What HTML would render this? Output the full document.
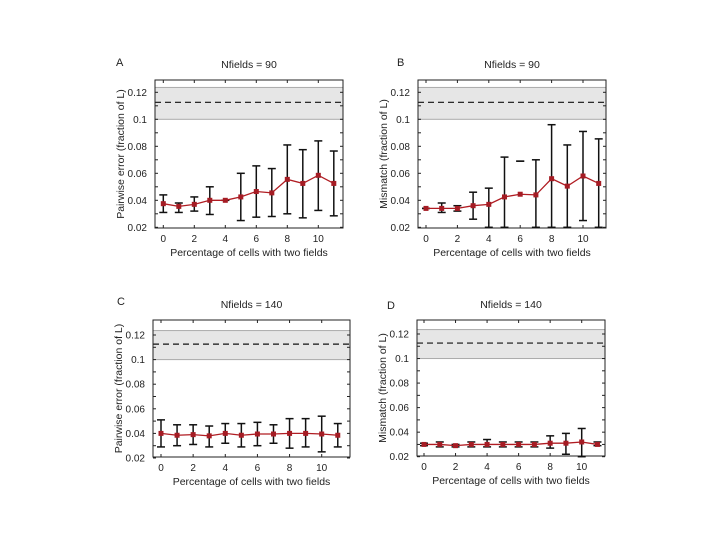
<!DOCTYPE html>
<html><head><meta charset="utf-8"><style>
body{margin:0;background:#fff;width:720px;height:540px;overflow:hidden}
svg{display:block;font-family:"Liberation Sans",sans-serif}
</style></head><body>
<svg id="fig" width="720" height="540"></svg>
<script>
const xCats=[0,1,2,3,4,5,6,7,8,9,10,11];
const xTicks=[0,2,4,6,8,10];
const yTicks=[0.02,0.04,0.06,0.08,0.1,0.12];
const yTickLabels=["0.02","0.04","0.06","0.08","0.1","0.12"];
const meanA=[0.0375,0.0355,0.037,0.040,0.040,0.0425,0.0465,0.0455,0.0555,0.0525,0.0585,0.0525];
const loA=[0.031,0.031,0.032,0.0295,0.040,0.025,0.0275,0.028,0.030,0.027,0.0325,0.0285];
const hiA=[0.044,0.038,0.0425,0.050,0.040,0.060,0.0655,0.0635,0.081,0.0775,0.084,0.0765];
const meanB=[0.034,0.034,0.034,0.036,0.037,0.0425,0.0445,0.044,0.056,0.0505,0.058,0.0525];
const loB=[0.034,0.031,0.032,0.026,0.020,0.020,0.069,0.020,0.020,0.020,0.025,0.020];
const hiB=[0.034,0.038,0.036,0.046,0.049,0.072,0.069,0.070,0.096,0.081,0.091,0.0855];
const meanC=[0.040,0.0385,0.039,0.038,0.040,0.0385,0.0395,0.0395,0.040,0.040,0.0395,0.0385];
const loC=[0.029,0.030,0.031,0.029,0.032,0.029,0.030,0.032,0.028,0.029,0.025,0.029];
const hiC=[0.051,0.047,0.047,0.046,0.048,0.048,0.049,0.047,0.052,0.052,0.054,0.048];
const meanD=[0.030,0.030,0.029,0.030,0.030,0.030,0.030,0.030,0.031,0.031,0.032,0.030];
const loD=[0.029,0.028,0.028,0.028,0.028,0.028,0.028,0.028,0.027,0.022,0.020,0.029];
const hiD=[0.031,0.032,0.030,0.032,0.034,0.032,0.032,0.032,0.037,0.039,0.043,0.032];
const bandLo=0.1, bandHi=0.1236, dashY=0.1126;

const NS="http://www.w3.org/2000/svg";
const svg=document.getElementById('fig');
function mk(tag,attrs,parent){const e=document.createElementNS(NS,tag);for(const k in attrs)e.setAttribute(k,attrs[k]);(parent||svg).appendChild(e);return e;}

const panels=[
 {id:'a',letter:'A',lx:116,ly:66,title:'Nfields = 90',ylab:'Pairwise error (fraction of L)',box:[155,80,343,228],x0:163.3,x10:318.3,y12:92.3,y02:227.3,mean:meanA,lo:loA,hi:hiA},
 {id:'b',letter:'B',lx:397,ly:66,title:'Nfields = 90',ylab:'Mismatch (fraction of L)',box:[418,80,606,228],x0:426,x10:583,y12:92.3,y02:227.3,mean:meanB,lo:loB,hi:hiB},
 {id:'c',letter:'C',lx:117,ly:305,title:'Nfields = 140',ylab:'Pairwise error (fraction of L)',box:[153,320,350,457],x0:161,x10:321.7,y12:335,y02:458,mean:meanC,lo:loC,hi:hiC},
 {id:'d',letter:'D',lx:387,ly:309,title:'Nfields = 140',ylab:'Mismatch (fraction of L)',box:[417,320,605,456],x0:424,x10:581.7,y12:334,y02:456.7,mean:meanD,lo:loD,hi:hiD}
];

panels.forEach(p=>{
 const g=mk('g',{});
 
 
 const X=v=>p.x0+(p.x10-p.x0)*v/10;
 const Y=v=>p.y02+(p.y12-p.y02)*(v-0.02)/0.1;
 const [l,t,r,b]=p.box;
 const band=mk('rect',{x:l,y:Y(bandHi),width:r-l,height:Y(bandLo)-Y(bandHi),fill:'#e6e6e6',stroke:'#aaa','stroke-width':1},g);
 
 
 const dl=mk('line',{x1:l,x2:r,y1:Y(dashY),y2:Y(dashY),stroke:'#111','stroke-width':1.2,'stroke-dasharray':'6,4'},g);
 
 
 const ax=mk('rect',{x:l,y:t,width:r-l,height:b-t,fill:'none',stroke:'#222','stroke-width':1},g);
 
 
 for(let v=0.02;v<=0.125;v+=0.01){const yy=Y(v);
  mk('line',{x1:l,x2:l+3,y1:yy,y2:yy,stroke:'#222'},g);mk('line',{x1:r,x2:r-3,y1:yy,y2:yy,stroke:'#222'},g);}
 yTicks.forEach((v,i)=>{const tx=mk('text',{x:l-8,y:Y(v)+3.5,'text-anchor':'end','font-size':10,fill:'#222'},g);tx.textContent=yTickLabels[i];
  
  });
 xTicks.forEach(v=>{mk('line',{x1:X(v),x2:X(v),y1:b,y2:b-3,stroke:'#222'},g);mk('line',{x1:X(v),x2:X(v),y1:t,y2:t+3,stroke:'#222'},g);
  const tx=mk('text',{x:X(v),y:b+14,'text-anchor':'middle','font-size':10,fill:'#222'},g);tx.textContent=v;
  
  });
 const xt=mk('text',{x:(l+r)/2,y:b+28,'text-anchor':'middle','font-size':10.5,fill:'#222'},g);xt.textContent='Percentage of cells with two fields';
 
 
 const cy=(t+b)/2;
 const yt=mk('text',{x:l-31,y:cy,'text-anchor':'middle','font-size':10.5,fill:'#222',transform:`rotate(-90 ${l-31} ${cy})`},g);yt.textContent=p.ylab;
 
 
 const tt=mk('text',{x:(l+r)/2,y:t-12,'text-anchor':'middle','font-size':10.5,fill:'#222'},g);tt.textContent=p.title;
 
 
 const lt=mk('text',{x:p.lx,y:p.ly,'font-size':11,fill:'#222'},g);lt.textContent=p.letter;
 
 
 xCats.forEach((c,i)=>{const xx=X(c);
  const eb=mk('g',{stroke:'#111','stroke-width':1.5},g);
  
  
  mk('line',{x1:xx,x2:xx,y1:Y(p.lo[i]),y2:Y(p.hi[i])},eb);
  mk('line',{x1:xx-4,x2:xx+4,y1:Y(p.lo[i]),y2:Y(p.lo[i])},eb);
  mk('line',{x1:xx-4,x2:xx+4,y1:Y(p.hi[i]),y2:Y(p.hi[i])},eb);});
 const pts=xCats.map((c,i)=>X(c)+','+Y(p.mean[i])).join(' ');
 const pl=mk('polyline',{points:pts,fill:'none',stroke:'#b01c22','stroke-width':1.3},g);
 
 
 xCats.forEach((c,i)=>{const pt=mk('rect',{x:X(c)-2.5,y:Y(p.mean[i])-2.5,width:5,height:5,fill:'#a51c24'},g);
  
  });
});
</script>
</body></html>
